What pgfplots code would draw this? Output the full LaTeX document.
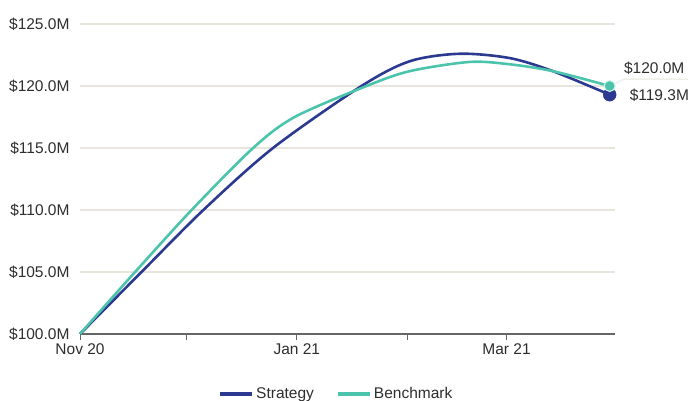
\documentclass[border=0pt]{standalone}
\usepackage{pgfplots}
\pgfplotsset{compat=1.18}
\usepackage{fontspec}
\setmainfont{Liberation Sans}

\definecolor{strat}{RGB}{43,57,144}
\definecolor{bench}{RGB}{76,196,172}
\definecolor{gridc}{RGB}{232,229,221}
\definecolor{axisc}{RGB}{102,102,102}
\definecolor{txt}{RGB}{45,45,45}

\begin{document}
\begin{tikzpicture}
\useasboundingbox (-80pt,-67pt) rectangle (611pt,334pt);
\begin{axis}[
    at={(0pt,0pt)}, anchor=south west,
    scale only axis,
    width=535pt, height=310pt,
    xmin=0, xmax=150.5,
    ymin=100, ymax=125,
    font=\fontsize{15.5}{18}\selectfont,
    /pgf/number format/assume math mode=true,
    separate axis lines,
    axis x line*=bottom,
    axis y line*=left,
    x axis line style={axisc, line width=2.5pt, -},
    y axis line style={draw=none},
    xtick={0,30,61,92,120},
    xticklabels={Nov 20,,Jan 21,,Mar 21},
    xtick style={axisc, line width=0.8pt},
    tick align=outside,
    major tick length=6pt,
    ytick={100,105,110,115,120,125},
    yticklabel={\$\pgfmathprintnumber[fixed,fixed zerofill,precision=1]{\tick}M},
    yticklabel style={anchor=east, xshift=-1pt},
    ymajorgrids,
    ytick style={draw=none},
    grid style={gridc, line width=2pt},
    tick label style={text=txt},
    clip=false,
    legend style={at={(0.479,-0.193)}, anchor=center, draw=none, fill=none,
        legend columns=2, text=txt,
        /tikz/every even column/.append style={column sep=20pt}},
    legend image code/.code={\draw[#1, line width=4pt] (0pt,0pt) -- (32pt,0pt);},
]
\addplot[strat, line width=2.6pt, smooth] coordinates {
  (0,100) (17.3,105) (34.7,110) (54.3,115) (79.2,120)
  (92.8,122.0) (106.8,122.6) (120.9,122.25) (133,121.2) (149,119.3)};
\addlegendentry{Strategy}
\addplot[bench, line width=2.6pt, smooth] coordinates {
  (0,100) (15.5,105) (31.4,110) (48.7,115) (60.4,117.5) (80.6,120)
  (92.8,121.2) (109.6,121.94) (120.9,121.75) (133,121.2) (149,120.0)};
\addlegendentry{Benchmark}

\draw[gridc!70!white, line width=1.5pt] (axis cs:149,119.95) -- (axis cs:153,120.55) -- (axis cs:171,120.55);
\addplot[strat, only marks, mark=*, mark size=6.5pt, forget plot] coordinates {(149,119.3)};
\addplot[bench, only marks, mark=*, mark size=5.5pt, mark options={draw=white!80!bench, line width=1pt, fill=bench}, forget plot] coordinates {(149,120.0)};

\node[anchor=west, text=txt, inner sep=0pt] at (axis cs:153,121.45) {\$120.0M};
\node[anchor=west, text=txt, inner sep=0pt] at (axis cs:154.6,119.27) {\$119.3M};
\end{axis}
\end{tikzpicture}
\end{document}
